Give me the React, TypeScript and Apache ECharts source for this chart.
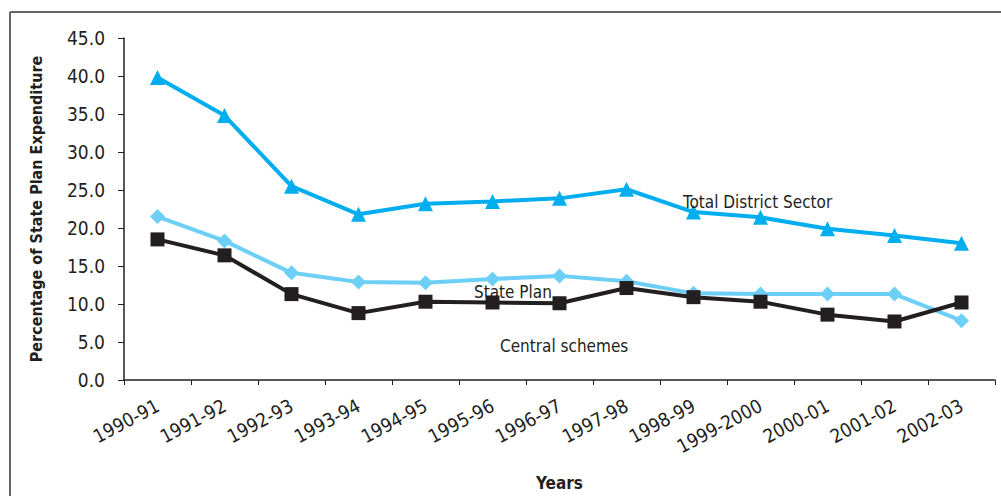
import React, { useEffect, useRef } from "react";
import * as echarts from "echarts";

const categories = [
  "1990-91", "1991-92", "1992-93", "1993-94", "1994-95", "1995-96", "1996-97",
  "1997-98", "1998-99", "1999-2000", "2000-01", "2001-02", "2002-03",
];
const totalDistrict = [39.8, 34.8, 25.5, 21.8, 23.2, 23.5, 23.9, 25.1, 22.1, 21.4, 19.9, 19.0, 18.0];
const statePlan = [21.5, 18.3, 14.1, 12.9, 12.8, 13.3, 13.7, 13.0, 11.4, 11.3, 11.3, 11.3, 7.8];
const centralSchemes = [18.5, 16.4, 11.3, 8.8, 10.3, 10.2, 10.1, 12.1, 10.9, 10.3, 8.6, 7.7, 10.2];
const yTicks = { min: 0, max: 45, interval: 5 };

const FONT = "'Liberation Sans Narrow', 'DejaVu Sans Condensed', 'Roboto Condensed', sans-serif";
const TEXT = "#231F20";

export default function App() {
  const ref = useRef<HTMLDivElement>(null);
  useEffect(() => {
    document.body.style.margin = "0";
    const chart = echarts.init(ref.current!, undefined, { renderer: "svg" });
    chart.setOption({
      animation: false,
      backgroundColor: "#ffffff",
      textStyle: { fontFamily: FONT },
      grid: { left: 124, right: 6, top: 38, bottom: 110, containLabel: false },
      xAxis: {
        type: "category",
        data: categories,
        boundaryGap: true,
        axisLine: { lineStyle: { color: TEXT, width: 1.5 } },
        axisTick: { show: true, length: 5, lineStyle: { color: TEXT } },
        axisLabel: { rotate: 28, fontSize: 19, color: TEXT, fontFamily: FONT, margin: 24, interval: 0 },
        name: "Years",
        nameLocation: "middle",
        nameGap: 94,
        nameTextStyle: { fontSize: 17, fontWeight: "bold", color: TEXT, fontFamily: FONT },
      },
      yAxis: {
        type: "value",
        min: yTicks.min,
        max: yTicks.max,
        interval: yTicks.interval,
        splitLine: { show: false },
        axisLine: { show: true, lineStyle: { color: TEXT, width: 1.5 } },
        axisTick: { show: true, length: 6, lineStyle: { color: TEXT } },
        axisLabel: { fontSize: 19, color: TEXT, fontFamily: FONT, margin: 19, formatter: (v: number) => v.toFixed(1) },
        name: "Percentage of State Plan Expenditure",
        nameLocation: "middle",
        nameGap: 80,
        nameTextStyle: { fontSize: 16, fontWeight: "bold", color: TEXT, fontFamily: FONT },
      },
      series: [
        {
          name: "Total District Sector",
          type: "line",
          data: totalDistrict,
          symbol: "triangle",
          symbolSize: 15,
          lineStyle: { color: "#00AEEF", width: 4 },
          itemStyle: { color: "#00AEEF" },
          z: 3,
        },
        {
          name: "State Plan",
          type: "line",
          data: statePlan,
          symbol: "diamond",
          symbolSize: 15,
          lineStyle: { color: "#6DCFF6", width: 4 },
          itemStyle: { color: "#6DCFF6" },
          z: 2,
        },
        {
          name: "Central schemes",
          type: "line",
          data: centralSchemes,
          symbol: "rect",
          symbolSize: 14,
          lineStyle: { color: TEXT, width: 4 },
          itemStyle: { color: TEXT },
          z: 4,
        },
      ],
      graphic: [
        { type: "line", shape: { x1: 10, y1: 12, x2: 1001, y2: 12 }, style: { stroke: "#666666", lineWidth: 2 } },
        { type: "line", shape: { x1: 10, y1: 12, x2: 10, y2: 496 }, style: { stroke: "#666666", lineWidth: 2 } },
        { type: "text", left: 683, top: 193, z: 10, style: { text: "Total District Sector", fontSize: 17, fill: TEXT, fontFamily: FONT } },
        { type: "text", left: 474, top: 283, z: 10, style: { text: "State Plan", fontSize: 17, fill: TEXT, fontFamily: FONT } },
        { type: "text", left: 500, top: 337, z: 10, style: { text: "Central schemes", fontSize: 17, fill: TEXT, fontFamily: FONT } },
      ],
    });
    return () => chart.dispose();
  }, []);
  return <div ref={ref} style={{ width: 1001, height: 496, position: "absolute", left: 0, top: 0 }} />;
}
